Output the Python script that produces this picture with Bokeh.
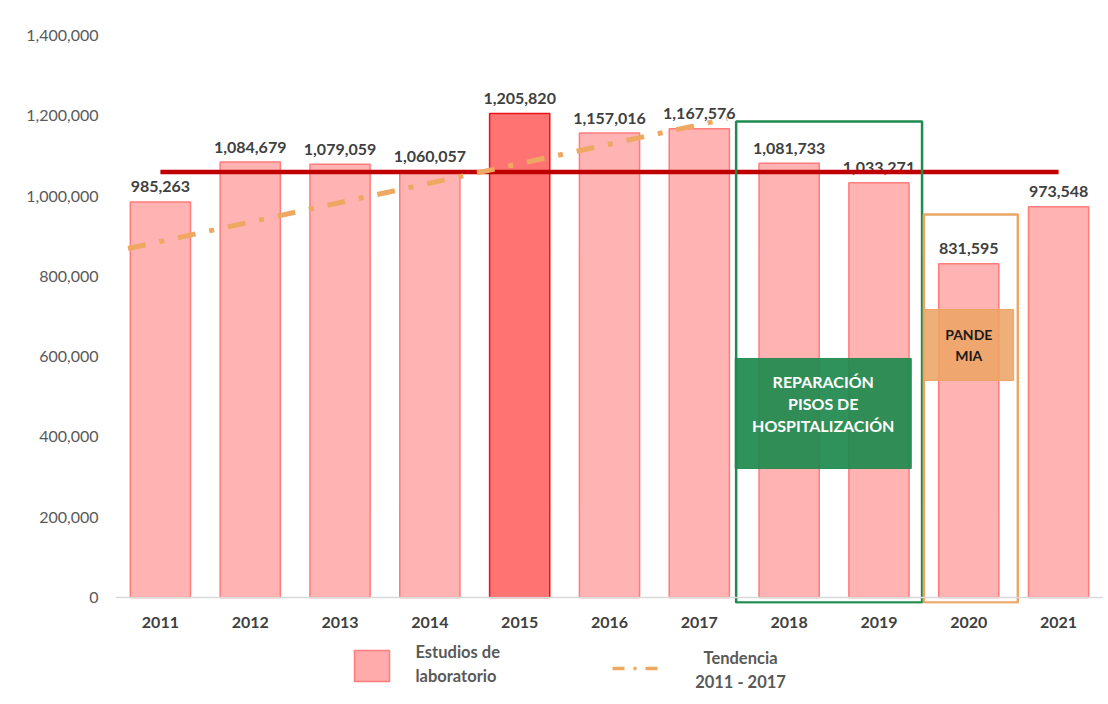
from bokeh.plotting import figure
from bokeh.models import Range1d, FixedTicker, NumeralTickFormatter, Span
from bokeh.layouts import column
from bokeh.embed import file_html
from bokeh.resources import INLINE
from bokeh.core.properties import value

# ---------------- data ----------------
years = ["2011", "2012", "2013", "2014", "2015", "2016", "2017", "2018", "2019", "2020", "2021"]
estudios = [985263, 1084679, 1079059, 1060057, 1205820, 1157016, 1167576,
            1081733, 1033271, 831595, 973548]
highlight_year = "2015"
trend_years = ["2011", "2017"]
trend_values = [886800, 1177800]
y_ticks = [0, 200000, 400000, 600000, 800000, 1000000, 1200000, 1400000]
legend_labels = ["Estudios de\nlaboratorio", "Tendencia\n2011 - 2017"]
reparacion_text = "REPARACIÓN\nPISOS DE\nHOSPITALIZACIÓN"
pandemia_text = "PANDE\nMIA"

# ---------------- styles ----------------
FONT = value("Lato")
BAR_FILL, BAR_LINE = "#FFB3B3", "#FF7C7C"
HI_FILL, HI_LINE = "#FF7373", "#E8141C"
MEAN_COLOR = "#C00000"
TREND_COLOR = "#EEA862"
GREEN = "#1F8A4E"
ORANGE = "#EAA765"

idx = list(range(len(years)))
mean_value = sum(estudios) / len(estudios)

W = 1103
LEFT = 115
MAIN_H = 637
p = figure(width=W, height=MAIN_H, output_backend="svg", toolbar_location=None,
           x_range=Range1d(-0.5, len(years) - 0.5), y_range=Range1d(-15000, 1400000),
           min_border_left=LEFT, min_border_right=0, min_border_top=35, min_border_bottom=34)
p.outline_line_color = None
p.xgrid.visible = False
p.ygrid.visible = False
p.background_fill_color = "white"

# axes
p.yaxis.ticker = FixedTicker(ticks=y_ticks, minor_ticks=[])
p.yaxis.formatter = NumeralTickFormatter(format="0,0")
p.yaxis.axis_line_color = None
p.yaxis.major_tick_line_color = None
p.yaxis.minor_tick_line_color = None
p.yaxis.major_label_standoff = 11
p.yaxis.major_label_text_font = "Lato"
p.yaxis.major_label_text_font_size = "16px"
p.yaxis.major_label_text_color = "#595959"

p.xaxis.ticker = FixedTicker(ticks=idx, minor_ticks=[])
p.xaxis.major_label_overrides = {i: y for i, y in zip(idx, years)}
p.xaxis.axis_line_color = None
p.xaxis.major_tick_line_color = None
p.xaxis.minor_tick_line_color = None
p.xaxis.major_label_standoff = 7
p.xaxis.major_label_text_font = "Lato"
p.xaxis.major_label_text_font_style = "bold"
p.xaxis.major_label_text_font_size = "16px"
p.xaxis.major_label_text_color = "#404040"

p.add_layout(Span(location=0, dimension="width", line_color="#D9D9D9", line_width=1.5))

# bars
fills = [HI_FILL if y == highlight_year else BAR_FILL for y in years]
lines = [HI_LINE if y == highlight_year else BAR_LINE for y in years]
p.vbar(x=idx, top=estudios, width=0.67, fill_color=fills, line_color=lines, line_width=1.5)

# data labels
p.text(x=idx, y=estudios, text=[f"{v:,}" for v in estudios], text_align="center",
       text_baseline="alphabetic", y_offset=-15, text_font=FONT, text_font_style="bold",
       text_font_size="16px", text_color="#404040")

# mean line
p.line(x=[idx[0], idx[-1]], y=[mean_value, mean_value], line_color=MEAN_COLOR, line_width=4.5)

# trend line (extended slightly beyond 2011 and 2017)
i0, i1 = years.index(trend_years[0]), years.index(trend_years[1])
slope = (trend_values[1] - trend_values[0]) / (i1 - i0)
tx = [i0 - 0.36, i1 + 0.31]
ty = [trend_values[0] + slope * (x - i0) for x in tx]
p.line(x=tx, y=ty, line_color=TREND_COLOR, line_width=5, line_dash="18 14 5 14")

# annotation boxes (layout positions)
p.quad(left=6.41, right=8.48, bottom=-12500, top=1185600, fill_color=None,
       line_color=GREEN, line_width=2.5)
p.quad(left=8.50, right=9.546, bottom=-12500, top=954100, fill_color=None,
       line_color=ORANGE, line_width=2.5)
p.quad(left=6.40, right=8.36, bottom=321300, top=595400, fill_color=GREEN,
       fill_alpha=0.93, line_color=GREEN, line_alpha=0.9, line_width=1)
p.quad(left=8.50, right=9.50, bottom=540600, top=717400, fill_color="#EDA465",
       fill_alpha=0.88, line_color="#EDA465", line_width=1)

p.text(x=[(6.40 + 8.36) / 2], y=[483000], text=[reparacion_text],
       text_align="center", text_baseline="middle", text_line_height=1.15,
       text_font=FONT, text_font_style="bold", text_font_size="16px", text_color="white")
p.text(x=[9.0], y=[(540600 + 717400) / 2], text=[pandemia_text],
       text_align="center", text_baseline="middle", text_line_height=1.25,
       text_font=FONT, text_font_style="bold", text_font_size="14px", text_color="#1A1A1A")

# ---------------- legend figure (page-pixel coordinates) ----------------
LH = 64
lg = figure(width=W, height=LH, output_backend="svg", toolbar_location=None,
            x_range=Range1d(LEFT, W), y_range=Range1d(MAIN_H + LH, MAIN_H),
            x_axis_type=None, y_axis_type=None,
            min_border_left=LEFT, min_border_right=0, min_border_top=0, min_border_bottom=0)
lg.outline_line_color = None
lg.background_fill_color = "white"
lg.rect(x=[371.5], y=[665.5], width=35, height=31, fill_color="#FFABAB",
        line_color="#FF7C7C", line_width=1.5)
lg.text(x=[415], y=[663.5], text=[legend_labels[0]], text_align="left",
        text_baseline="middle", text_line_height=1.2, text_font=FONT,
        text_font_style="bold", text_font_size="16.5px", text_color="#595959")
lg.line(x=[612, 657], y=[668, 668], line_color=TREND_COLOR, line_width=3.5,
        line_dash="12 9 3 9")
lg.text(x=[740], y=[669.5], text=[legend_labels[1]], text_align="center",
        text_baseline="middle", text_line_height=1.2, text_font=FONT,
        text_font_style="bold", text_font_size="16.5px", text_color="#595959")

layout = column(p, lg, spacing=0)
open("out.html", "w").write(file_html(layout, INLINE))
